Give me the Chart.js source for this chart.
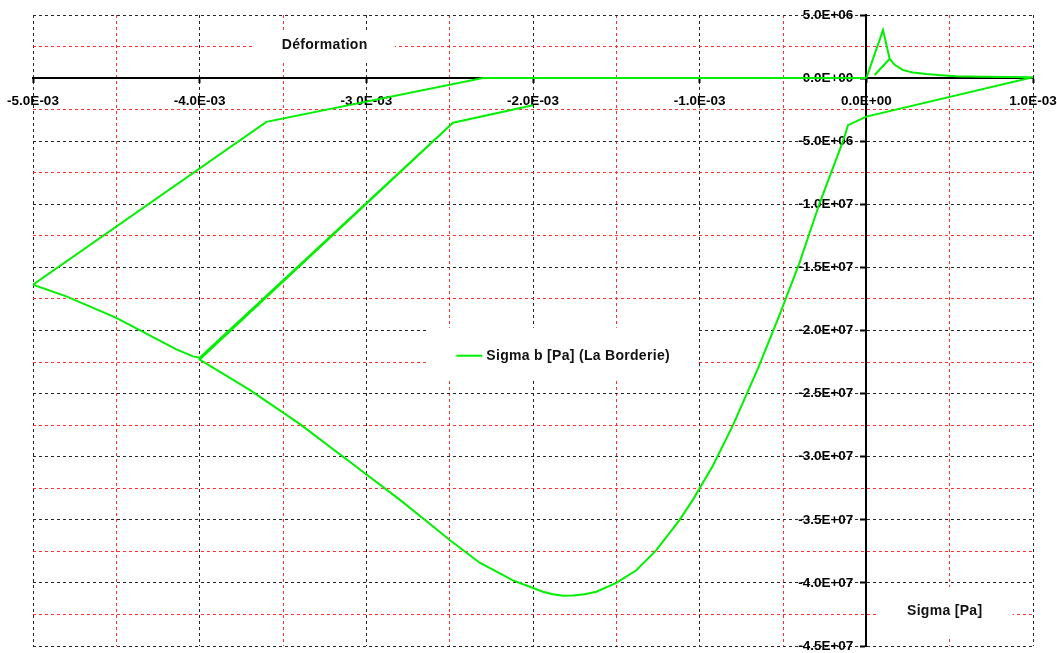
<!DOCTYPE html>
<html>
<head>
<meta charset="utf-8">
<script src="https://cdn.jsdelivr.net/npm/chart.js@4/dist/chart.umd.min.js"></script>
<style>
  html, body { margin: 0; padding: 0; background: #ffffff; overflow: hidden; }
  #chart { display: block; }
</style>
</head>
<body>
<canvas id="chart" width="1057" height="653"></canvas>
<script>
// Strain history (Déformation) and stress (Sigma b, Pa), La Borderie damage model
const deformation = [
  0, 1.0e-4, 1.4e-4, 0.5e-4, 1.4e-4, 1.7e-4, 2.2e-4, 2.8e-4, 3.6e-4, 4.5e-4,
  5.4e-4, 7.0e-4, 1.0e-3,
  0, -0.11e-3, -0.14e-3, -0.28e-3, -0.40e-3, -0.52e-3, -0.65e-3, -0.80e-3,
  -0.92e-3, -1.04e-3, -1.12e-3, -1.26e-3, -1.38e-3, -1.50e-3, -1.62e-3,
  -1.69e-3, -1.76e-3, -1.82e-3, -1.88e-3, -1.94e-3, -2.00e-3, -2.12e-3,
  -2.32e-3, -2.50e-3, -2.64e-3,
  -2.80e-3, -3.10e-3, -3.40e-3, -3.70e-3, -4.00e-3,
  -2.48e-3, -2.00e-3, -2.48e-3, -4.00e-3,
  -4.04e-3, -4.14e-3, -4.50e-3, -4.80e-3, -5.00e-3,
  -3.60e-3, -2.30e-3, 0
];
const sigmaB = [
  0, 3.80e6, 1.53e6, 0.25e6, 1.53e6, 1.05e6, 0.63e6, 0.45e6, 0.32e6, 0.22e6,
  0.15e6, 0.10e6, 0.06e6,
  -3.05e6, -3.73e6, -5.0e6, -9.9e6, -14.6e6, -18.75e6, -23.0e6, -27.5e6,
  -30.7e6, -33.4e6, -35.0e6, -37.4e6, -39.0e6, -40.0e6, -40.7e6,
  -40.9e6, -41.0e6, -41.02e6, -40.9e6, -40.7e6, -40.4e6, -39.8e6,
  -38.4e6, -36.6e6, -35.1e6,
  -33.4e6, -30.4e6, -27.4e6, -24.7e6, -22.3e6,
  -3.54e6, -2.15e6, -3.54e6, -22.15e6,
  -22.05e6, -21.5e6, -19.0e6, -17.3e6, -16.37e6,
  -3.47e6, 0, 0
];

const seriesLabel = 'Sigma b [Pa] (La Borderie)';
const xTitle = 'Déformation';
const yTitle = 'Sigma [Pa]';

const xLimits = [-5e-3, 1e-3];
const yLimits = [-4.5e7, 5e6];
const xMajor = 1e-3, xMinor = 5e-4;
const yMajor = 5e6, yMinor = 2.5e6;

const FONT = '"Liberation Sans", Arial, sans-serif';
const MAJOR_GRID = '#262626';
const MINOR_GRID = '#ff3030';

function isMajor(v, step) {
  const r = v / step;
  return Math.abs(r - Math.round(r)) < 1e-6;
}

// "-5.0E-03" style labels
function sci(v) {
  if (Math.abs(v) < 1e-12) v = 0;
  const parts = v.toExponential(1).split('e');
  const n = parseInt(parts[1], 10);
  return parts[0] + 'E' + (n < 0 ? '-' : '+') + String(Math.abs(n)).padStart(2, '0');
}

function axisOptions(limits, major, minor, positionAt, tickLen, pad) {
  return {
    type: 'linear',
    min: limits[0],
    max: limits[1],
    position: positionAt,
    // axes cross inside the plot, so their labels may overhang the edges
    afterFit: (scale) => {
      scale.paddingLeft = 0; scale.paddingRight = 0;
      scale.paddingTop = 0; scale.paddingBottom = 0;
    },
    ticks: {
      stepSize: minor,
      autoSkip: false,
      maxRotation: 0,
      minRotation: 0,
      padding: pad,
      color: '#000000',
      font: { family: FONT, size: 13.5, weight: 'bold' },
      callback: (v) => isMajor(v, major) ? sci(v) : ''
    },
    grid: {
      lineWidth: 1,
      color: (c) => (c.tick && isMajor(c.tick.value, major)) ? MAJOR_GRID : MINOR_GRID,
      drawTicks: true,
      tickLength: tickLen,
      tickWidth: 2,
      tickColor: (c) => (c.tick && isMajor(c.tick.value, major)) ? '#000000' : 'rgba(0,0,0,0)'
    },
    border: { display: true, color: '#000000', width: 2, dash: [3, 3] }
  };
}

// A y axis crossing at x = 0 puts its labels right on the axis line;
// move them left of the tick marks by tick length + padding.
const yLabelGap = {
  id: 'yLabelGap',
  afterLayout(chart) {
    const s = chart.scales.y;
    const gap = s.options.grid.tickLength + s.options.ticks.padding;
    s.getLabelItems().forEach((it) => { it.options.translation[0] -= gap; });
  }
};

// Boxed captions placed in data coordinates (box size in px)
const captions = [
  { text: xTitle, at: [-3.25e-3, 2.5e6], w: 140, h: 29, dy: -1 },
  { text: yTitle, at: [0.47e-3, -4.25e7], w: 136, h: 49, dy: -3 }
];
const legendBox = { at: [-1.83e-3, -2.184e7], w: 270, h: 52, lineFrom: -105, lineTo: -79, textFrom: -75, dy: 2 };

const overlayPlugin = {
  id: 'overlayCaptions',
  beforeDatasetsDraw(chart) {
    const { ctx, scales } = chart;
    const sx = scales.x, sy = scales.y;
    ctx.save();
    ctx.font = 'bold 14px ' + FONT;
    if ('letterSpacing' in ctx) ctx.letterSpacing = '0.3px';
    ctx.textBaseline = 'middle';

    captions.forEach((c) => {
      const cx = sx.getPixelForValue(c.at[0]);
      const cy = sy.getPixelForValue(c.at[1]);
      ctx.fillStyle = '#ffffff';
      ctx.fillRect(cx - c.w / 2, cy - c.h / 2 + c.dy, c.w, c.h);
      ctx.fillStyle = '#111111';
      ctx.textAlign = 'center';
      ctx.fillText(c.text, cx, cy + c.dy);
    });

    // legend
    const ds = chart.data.datasets[0];
    const lx = sx.getPixelForValue(legendBox.at[0]);
    const ly = sy.getPixelForValue(legendBox.at[1]);
    ctx.fillStyle = '#ffffff';
    ctx.fillRect(lx - legendBox.w / 2, ly - legendBox.h / 2, legendBox.w, legendBox.h);
    ctx.strokeStyle = ds.borderColor;
    ctx.lineWidth = ds.borderWidth;
    ctx.beginPath();
    ctx.moveTo(lx + legendBox.lineFrom, ly + legendBox.dy);
    ctx.lineTo(lx + legendBox.lineTo, ly + legendBox.dy);
    ctx.stroke();
    ctx.fillStyle = '#111111';
    ctx.textAlign = 'left';
    ctx.fillText(ds.label, lx + legendBox.textFrom, ly + legendBox.dy);
    ctx.restore();
  }
};

new Chart(document.getElementById('chart'), {
  type: 'scatter',
  data: {
    datasets: [{
      label: seriesLabel,
      data: deformation.map((x, i) => ({ x: x, y: sigmaB[i] })),
      showLine: true,
      borderColor: '#00f000',
      borderWidth: 2,
      pointRadius: 0,
      pointHoverRadius: 0,
      tension: 0,
      fill: false
    }]
  },
  options: {
    responsive: false,
    animation: false,
    devicePixelRatio: 1,
    layout: { padding: { left: 33, right: 24, top: 15, bottom: 7 } },
    plugins: {
      legend: { display: false },
      tooltip: { enabled: false }
    },
    scales: {
      x: axisOptions(xLimits, xMajor, xMinor, { y: 0 }, 4, 11),
      y: axisOptions(yLimits, yMajor, yMinor, { x: 0 }, 5, 8)
    }
  },
  plugins: [yLabelGap, overlayPlugin]
});
</script>
</body>
</html>
